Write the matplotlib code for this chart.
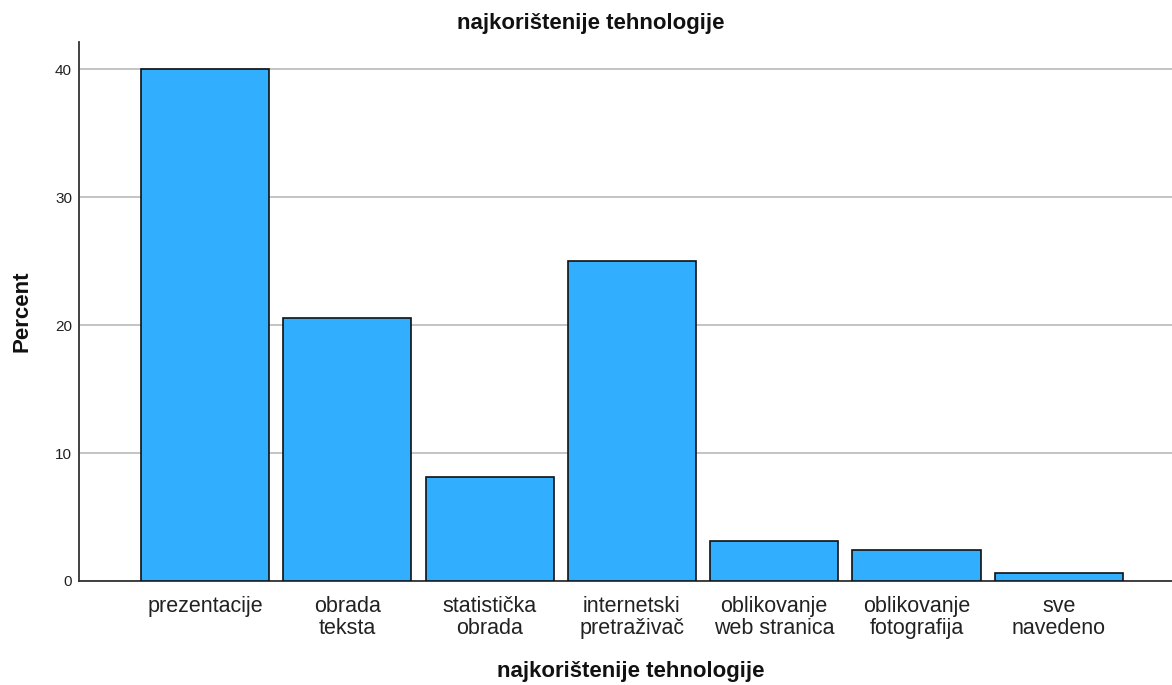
import matplotlib
matplotlib.use("Agg")
import matplotlib.pyplot as plt

# data
categories = [
    "prezentacije",
    "obrada\nteksta",
    "statistička\nobrada",
    "internetski\npretraživač",
    "oblikovanje\nweb stranica",
    "oblikovanje\nfotografija",
    "sve\nnavedeno",
]
percent = [40.0, 20.6, 8.1, 25.0, 3.1, 2.4, 0.6]
y_ticks = [0, 10, 20, 30, 40]

plt.rcParams["font.family"] = ["Liberation Sans", "DejaVu Sans"]

W, H = 1172, 685
fig = plt.figure(figsize=(W / 100, H / 100), dpi=100, facecolor="w")
ax = fig.add_axes([79 / W, 1 - 581 / H, (W - 79) / W, (581 - 42) / H])

x = list(range(len(categories)))
ax.bar(x, percent, width=0.9, color="#31AEFE", edgecolor="#111111",
       linewidth=1.2, zorder=3)

ax.set_xlim(-0.885, 6.795)
ax.set_ylim(0, 42.15)
ax.set_yticks(y_ticks)
ax.set_yticklabels([str(t) for t in y_ticks], fontsize=11, color="#222222")
ax.set_xticks(x)
ax.set_xticklabels(categories, fontsize=15.5, color="#222222", linespacing=1.05)
ax.tick_params(axis="both", length=0)
ax.tick_params(axis="y", pad=5)
ax.tick_params(axis="x", pad=11)

ax.yaxis.grid(True, color="#B4B4B4", linewidth=1.1, zorder=0)
ax.set_axisbelow(True)

for side in ("top", "right"):
    ax.spines[side].set_visible(False)
for side in ("left", "bottom"):
    ax.spines[side].set_color("#333333")
    ax.spines[side].set_linewidth(1.3)

fig.text(591 / W, 1 - 24 / H, "najkorištenije tehnologije", ha="center",
         va="center", fontsize=16, fontweight="bold", color="#111111")
fig.text(631 / W, 1 - 672 / H, "najkorištenije tehnologije", ha="center",
         va="center", fontsize=16, fontweight="bold", color="#111111")
fig.text(22 / W, 1 - 311 / H, "Percent", ha="center", va="center",
         rotation=90, fontsize=16, fontweight="bold", color="#111111")

fig.savefig("out.png", dpi=100, facecolor="w")
